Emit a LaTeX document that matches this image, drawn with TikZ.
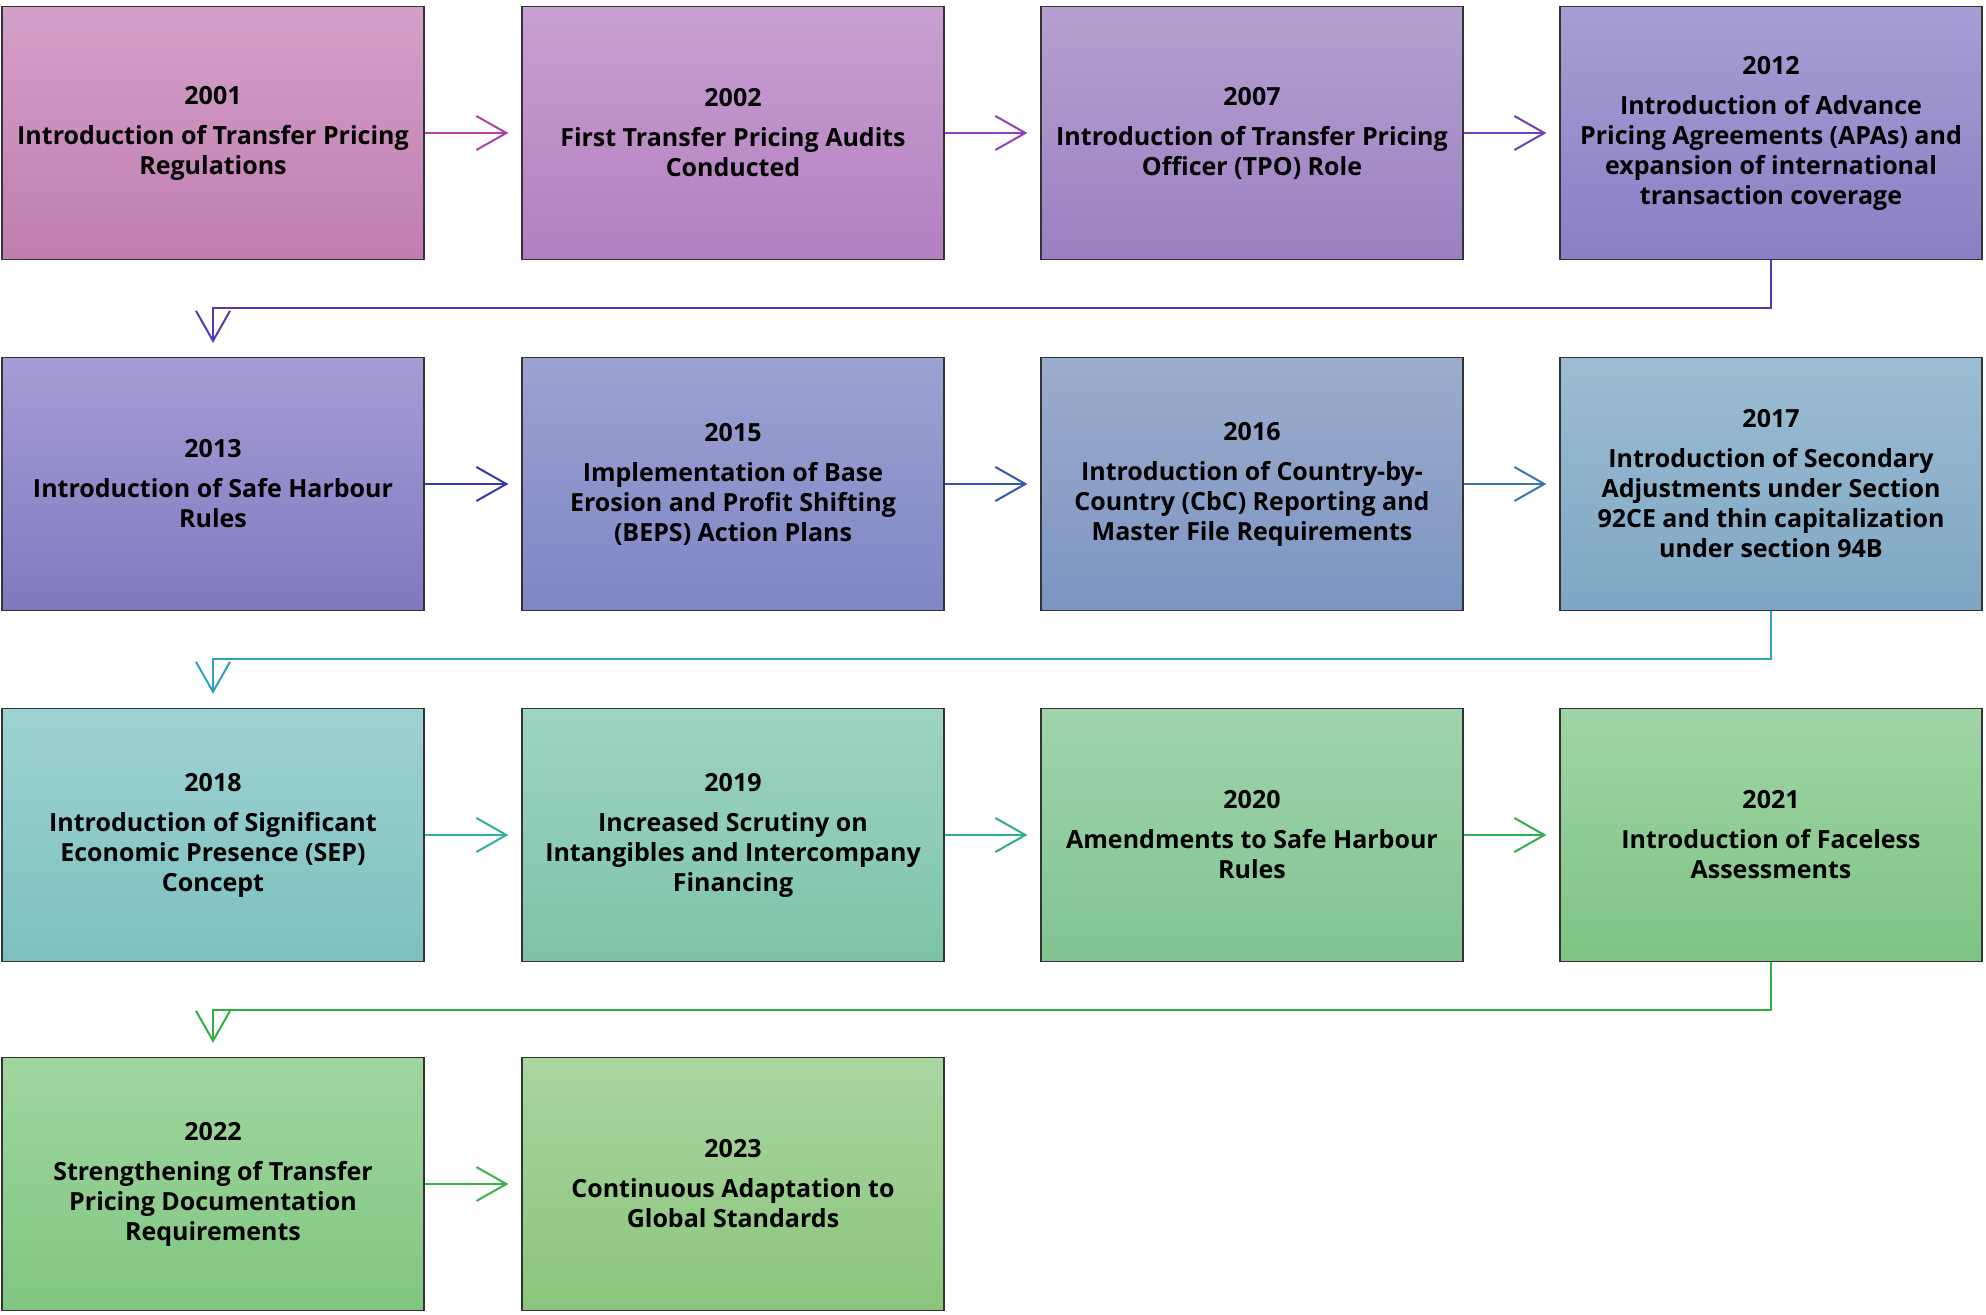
\documentclass[tikz,border=0pt]{standalone}
\usepackage{fontspec}
\setmainfont{Open Sans}
\usetikzlibrary{arrows.meta}

\definecolor{ca1}{HTML}{D4A0CA}\definecolor{cb1}{HTML}{C07DB0}
\definecolor{ca2}{HTML}{C8A0D2}\definecolor{cb2}{HTML}{B47EC0}
\definecolor{ca3}{HTML}{B5A0D0}\definecolor{cb3}{HTML}{9C80C2}
\definecolor{ca4}{HTML}{A69ED4}\definecolor{cb4}{HTML}{8A7FC4}
\definecolor{ca5}{HTML}{A59DD6}\definecolor{cb5}{HTML}{8079C0}
\definecolor{ca6}{HTML}{9CA2D2}\definecolor{cb6}{HTML}{7F86C4}
\definecolor{ca7}{HTML}{9CACCD}\definecolor{cb7}{HTML}{7C95C2}
\definecolor{ca8}{HTML}{9CBDD2}\definecolor{cb8}{HTML}{7EA6C4}
\definecolor{ca9}{HTML}{9ED2D2}\definecolor{cb9}{HTML}{7DC0C0}
\definecolor{ca10}{HTML}{9ED4C2}\definecolor{cb10}{HTML}{7DC3A8}
\definecolor{ca11}{HTML}{A0D4AC}\definecolor{cb11}{HTML}{80C490}
\definecolor{ca12}{HTML}{A0D4A6}\definecolor{cb12}{HTML}{7EC484}
\definecolor{ca13}{HTML}{A0D6A0}\definecolor{cb13}{HTML}{80C680}
\definecolor{ca14}{HTML}{A8D6A0}\definecolor{cb14}{HTML}{8CC47C}

\definecolor{l1}{HTML}{B040A8}\definecolor{l2}{HTML}{9040B8}
\definecolor{l3}{HTML}{7040B8}\definecolor{l4}{HTML}{5838B0}
\definecolor{l5}{HTML}{3838A8}\definecolor{l6}{HTML}{3058B0}
\definecolor{l7}{HTML}{3878B0}\definecolor{l8}{HTML}{30A0C0}
\definecolor{l9}{HTML}{30B0A0}\definecolor{l10}{HTML}{30B080}
\definecolor{l11}{HTML}{30B050}\definecolor{l12}{HTML}{30B040}
\definecolor{l13}{HTML}{40B040}

\newcommand{\evt}[2]{#1\\[5pt]#2}

\begin{document}
\begin{tikzpicture}[x=0.5pt,y=-0.5pt,
    box/.style={draw=black!80, line width=0.6pt, rectangle,
      minimum width=211pt, minimum height=126.5pt,
      align=center, font=\bfseries\fontsize{12.5}{15}\selectfont,
      top color=ca#1, bottom color=cb#1},
    link/.style={draw=l#1, line width=1pt,
      -{Straight Barb[length=15pt,width=17pt,line width=1pt]}},
    across/.style={shorten >=6.5pt},
    down/.style={shorten >=7pt}]
\useasboundingbox (0,0) rectangle (1986,1315);
% row 1
\node[box=1] (p2001) at (213,133) {\evt{2001}{Introduction of Transfer Pricing\\Regulations}};
\node[box=2] (p2002) at (733,133) {\evt{2002}{First Transfer Pricing Audits\\Conducted}};
\node[box=3] (p2007) at (1252,133) {\evt{2007}{Introduction of Transfer Pricing\\Officer (TPO) Role}};
\node[box=4] (p2012) at (1771,133) {\evt{2012}{Introduction of Advance\\Pricing Agreements (APAs) and\\expansion of international\\transaction coverage}};
% row 2
\node[box=5] (p2013) at (213,484) {\evt{2013}{Introduction of Safe Harbour\\Rules}};
\node[box=6] (p2015) at (733,484) {\evt{2015}{Implementation of Base\\Erosion and Profit Shifting\\(BEPS) Action Plans}};
\node[box=7] (p2016) at (1252,484) {\evt{2016}{Introduction of Country-by-\\Country (CbC) Reporting and\\Master File Requirements}};
\node[box=8] (p2017) at (1771,484) {\evt{2017}{Introduction of Secondary\\Adjustments under Section\\92CE and thin capitalization\\under section 94B}};
% row 3
\node[box=9] (p2018) at (213,835) {\evt{2018}{Introduction of Significant\\Economic Presence (SEP)\\Concept}};
\node[box=10] (p2019) at (733,835) {\evt{2019}{Increased Scrutiny on\\Intangibles and Intercompany\\Financing}};
\node[box=11] (p2020) at (1252,835) {\evt{2020}{Amendments to Safe Harbour\\Rules}};
\node[box=12] (p2021) at (1771,835) {\evt{2021}{Introduction of Faceless\\Assessments}};
% row 4
\node[box=13] (p2022) at (213,1184) {\evt{2022}{Strengthening of Transfer\\Pricing Documentation\\Requirements}};
\node[box=14] (p2023) at (733,1184) {\evt{2023}{Continuous Adaptation to\\Global Standards}};
% arrows in a row
\draw[link=1,across] (p2001) -- (p2002);
\draw[link=2,across] (p2002) -- (p2007);
\draw[link=3,across] (p2007) -- (p2012);
\draw[link=5,across] (p2013) -- (p2015);
\draw[link=6,across] (p2015) -- (p2016);
\draw[link=7,across] (p2016) -- (p2017);
\draw[link=9,across] (p2018) -- (p2019);
\draw[link=10,across] (p2019) -- (p2020);
\draw[link=11,across] (p2020) -- (p2021);
\draw[link=13,across] (p2022) -- (p2023);
% back to the next row
\draw[link=4,down] (p2012.south) -- ++(0,48) -| (p2013.north);
\draw[link=8,down] (p2017.south) -- ++(0,48) -| (p2018.north);
\draw[link=12,down] (p2021.south) -- ++(0,48) -| (p2022.north);
\end{tikzpicture}
\end{document}
